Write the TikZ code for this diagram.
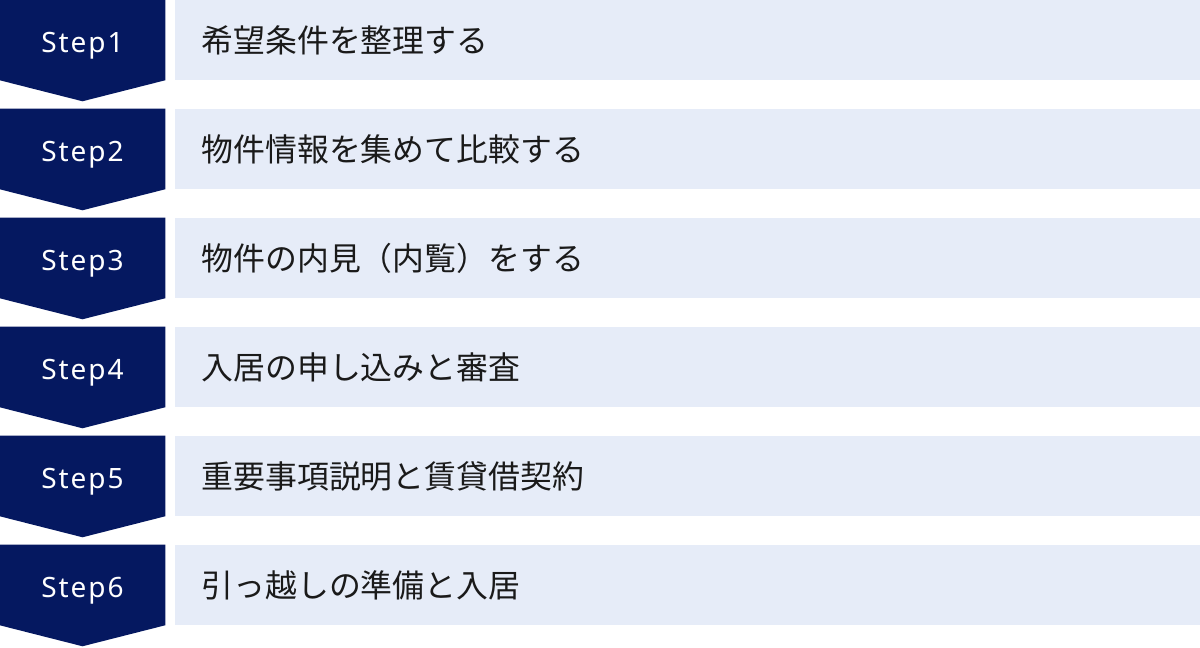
\documentclass[tikz,border=0pt]{standalone}
\usepackage{fontspec}
\setmainfont{Noto Sans CJK JP}
\newfontfamily\stepfont[LetterSpace=7]{Noto Sans}
\usepackage{tikz}
\usetikzlibrary{positioning}
\usetikzlibrary{calc}
\usetikzlibrary{backgrounds}

\definecolor{navy}{RGB}{5,24,96}
\definecolor{paleblue}{RGB}{230,236,248}
\definecolor{inkgray}{RGB}{26,26,26}

\tikzset{
  stepbox/.style={text=white, minimum width=165*0.75pt, minimum height=80*0.75pt,
    inner sep=0pt, text height=24*0.75pt, text depth=0pt,
    font=\stepfont\fontsize{21pt}{24pt}\selectfont},
  textbox/.style={fill=paleblue, text=inkgray, anchor=west, minimum height=80*0.75pt,
    text width=972*0.75pt, inner xsep=27*0.75pt, inner ysep=0pt, align=left,
    font=\fontsize{23.9pt}{26pt}\selectfont}
}

\begin{document}
\begin{tikzpicture}[x=0.75pt, y=0.75pt]
\useasboundingbox (0,0) rectangle (1200,-647);

\node[stepbox] (step1) at (82.5,-40) {Step1};
\node[stepbox] (step2) at (82.5,-149) {Step2};
\node[stepbox] (step3) at (82.5,-258) {Step3};
\node[stepbox] (step4) at (82.5,-367) {Step4};
\node[stepbox] (step5) at (82.5,-476) {Step5};
\node[stepbox] (step6) at (82.5,-585) {Step6};

% navy step shapes with the point below
\begin{scope}[on background layer]
\fill[navy] (step1.north west) -- (step1.north east) -- (step1.south east) -- ($(step1.south)+(0,-21)$) -- (step1.south west) -- cycle;
\fill[navy] (step2.north west) -- (step2.north east) -- (step2.south east) -- ($(step2.south)+(0,-21)$) -- (step2.south west) -- cycle;
\fill[navy] (step3.north west) -- (step3.north east) -- (step3.south east) -- ($(step3.south)+(0,-21)$) -- (step3.south west) -- cycle;
\fill[navy] (step4.north west) -- (step4.north east) -- (step4.south east) -- ($(step4.south)+(0,-21)$) -- (step4.south west) -- cycle;
\fill[navy] (step5.north west) -- (step5.north east) -- (step5.south east) -- ($(step5.south)+(0,-21)$) -- (step5.south west) -- cycle;
\fill[navy] (step6.north west) -- (step6.north east) -- (step6.south east) -- ($(step6.south)+(0,-21)$) -- (step6.south west) -- cycle;
\end{scope}

\node[textbox] (task1) at ($(step1.east)+(9,0)$) {希望条件を整理する};
\node[textbox] (task2) at ($(step2.east)+(9,0)$) {物件情報を集めて比較する};
\node[textbox] (task3) at ($(step3.east)+(9,0)$) {物件の内見（内覧）をする};
\node[textbox] (task4) at ($(step4.east)+(9,0)$) {入居の申し込みと審査};
\node[textbox] (task5) at ($(step5.east)+(9,0)$) {重要事項説明と賃貸借契約};
\node[textbox] (task6) at ($(step6.east)+(9,0)$) {引っ越しの準備と入居};
\end{tikzpicture}
\end{document}
